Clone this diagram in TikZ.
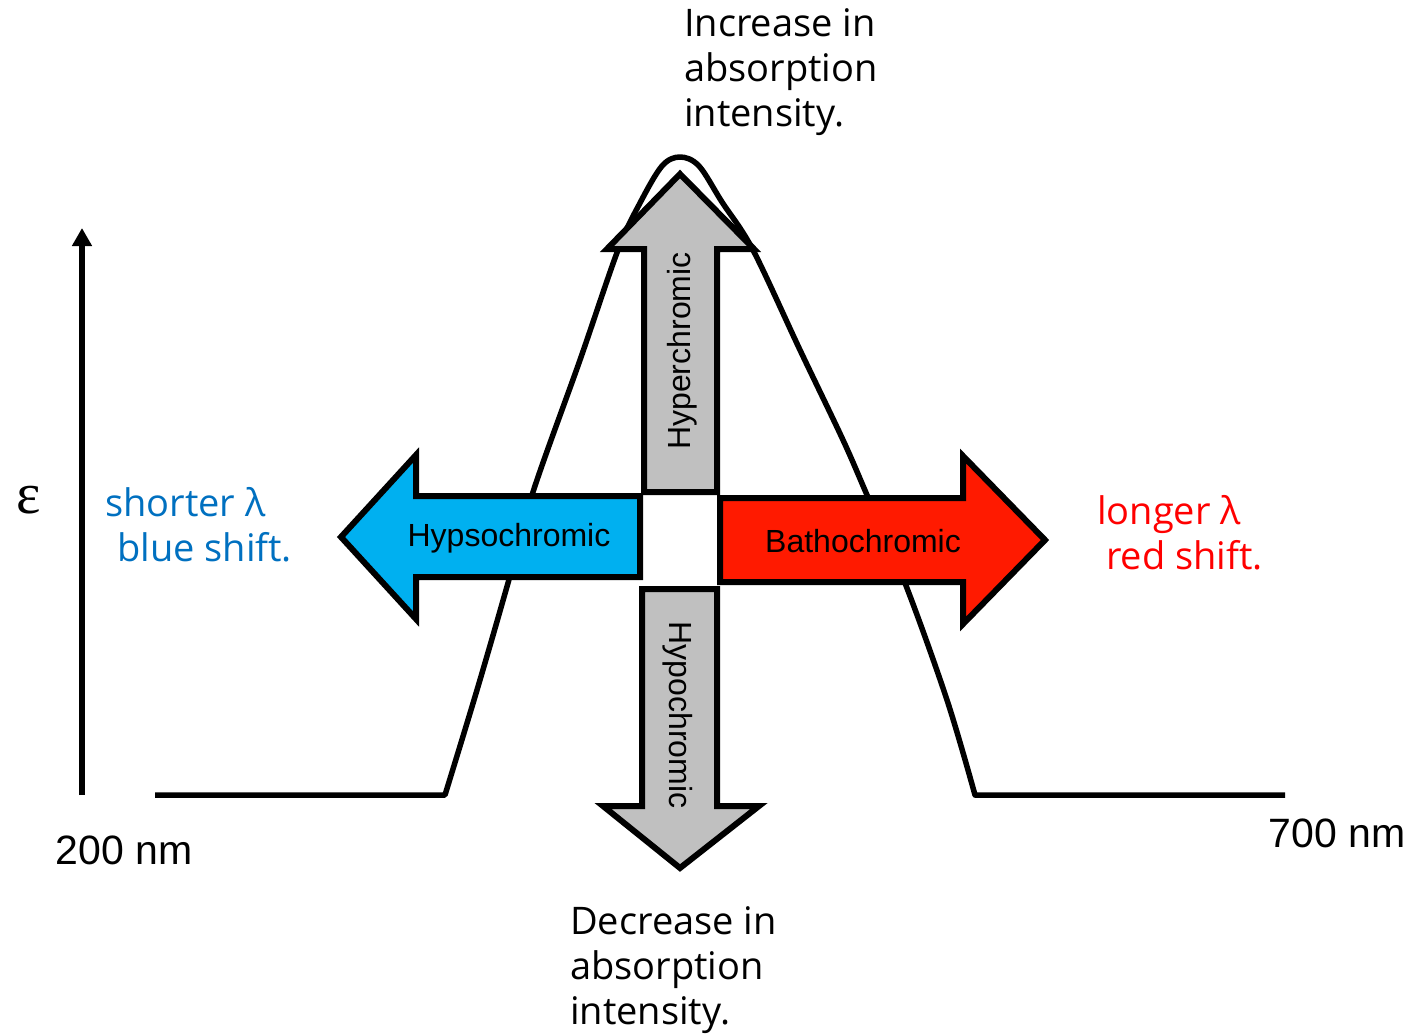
\documentclass[tikz,border=0pt]{standalone}
\usepackage{fontspec}
\setmainfont{Open Sans}
\newfontfamily\arialfont{Liberation Sans}
\newfontfamily\timesfont{Liberation Serif}
\usetikzlibrary{arrows.meta}
\definecolor{hypsoblue}{HTML}{00B0F0}
\definecolor{bathored}{HTML}{FF1A00}
\definecolor{chromgray}{HTML}{C0C0C0}
\definecolor{shiftblue}{HTML}{0070C0}

\begin{document}
\begin{tikzpicture}[x=1pt,y=-1pt,
	blockarrow/.style={draw=black,line width=6pt,line join=miter,miter limit=10},
	comic/.style={font=\fontsize{38}{45}\selectfont,align=left,inner sep=0pt,anchor=north west},
	armlabel/.style={font=\arialfont\fontsize{32}{38}\selectfont,inner sep=0pt},
	nmlabel/.style={font=\arialfont\fontsize{41}{48}\selectfont,inner sep=0pt}]
	\useasboundingbox (0,0) rectangle (1414,1034);
	% axis and spectrum
	\draw[line width=5.5pt,-{Triangle[width=19pt,length=18pt]}] (82,795) -- (82,228);
	\draw[line width=5.5pt,line join=round] (155,795) -- (445,795)
	-- plot[smooth,tension=0.55] coordinates {(445,795) (477,690) (508,583) (533,492) (580,360) (618,250) (640,203) (662,166) (680,157) (699,166) (722,202) (753,250) (800,350) (843,440) (867,495) (905,583) (947,700) (975,795)}
	-- (1285,795);
	% the four arrows
	\draw[blockarrow,fill=chromgray] (644,492) -- (644,249) -- (607,249) -- (680,174) -- (754,249) -- (717,249) -- (717,492) -- cycle;
	\draw[blockarrow,fill=chromgray] (642,589) -- (642,806) -- (603,806) -- (680,868) -- (759,806) -- (717,806) -- (717,589) -- cycle;
	\draw[blockarrow,fill=hypsoblue] (640,496) -- (416,496) -- (416,455) -- (341,537) -- (416,619) -- (416,577) -- (640,577) -- cycle;
	\draw[blockarrow,fill=bathored] (720,498) -- (963,498) -- (963,456) -- (1045,540) -- (963,624) -- (963,582) -- (720,582) -- cycle;
	\node[armlabel] (hypso) at (509,538) {Hypsochromic};
	\node[armlabel] (batho) at (863,541) {Bathochromic};
	\node[armlabel,rotate=90] (hyper) at (682,351) {Hyperchromic};
	\node[armlabel,rotate=-90] (hypo) at (678,715) {Hypochromic};
	% texts
	\node[comic] (incr) at (684,8) {Increase in\\absorption\\intensity.};
	\node[comic] (decr) at (570,906) {Decrease in\\absorption\\intensity.};
	\node[comic,text=shiftblue] (shorter) at (105,487) {shorter λ\\\hspace{12pt}blue shift.};
	\node[comic,text=red] (longer) at (1097,495) {longer λ\\\hspace{9pt}red shift.};
	\node[font=\timesfont\fontsize{58}{60}\selectfont,inner sep=0pt] (eps) at (29,500) {ε};
	\node[nmlabel] (nm200) at (124,850) {200 nm};
	\node[nmlabel] (nm700) at (1337,833) {700 nm};
\end{tikzpicture}
\end{document}
